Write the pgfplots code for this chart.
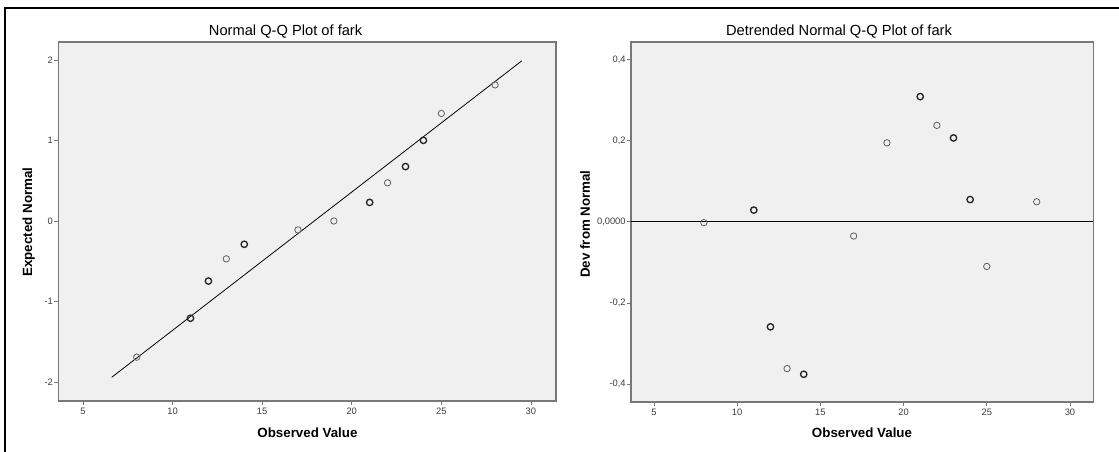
\documentclass[border=0pt]{standalone}
\usepackage{fontspec}
\setmainfont{Liberation Sans}
\usepackage{pgfplots}
\pgfplotsset{compat=1.18}

\definecolor{panel}{RGB}{240,240,240}
\definecolor{frameline}{RGB}{120,120,120}
\definecolor{ticktext}{RGB}{60,60,60}
\definecolor{ptlight}{RGB}{95,95,95}

\pgfplotsset{
  spssqq/.style={
    scale only axis,
    anchor=south west,
    xmin=3.62, xmax=31.4,
    xtick={5,10,15,20,25,30},
    xticklabels={5,10,15,20,25,30},
    tick pos=left,
    tick align=outside,
    major tick length=3pt,
    tick style={draw=frameline, line width=0.6pt},
    axis line style={draw=frameline, line width=0.8pt},
    axis background/.style={fill=panel},
    ticklabel style={font=\fontsize{7}{8}\selectfont, text=ticktext},
    xticklabel style={yshift=1.5pt},
    yticklabel style={xshift=2.5pt},
  },
}

\begin{document}
\begin{tikzpicture}
\useasboundingbox (0pt,0pt) rectangle (839.25pt,339pt);

% outer frame (top and left only)
\draw[line width=2.2pt] (3.75pt,0pt) -- (3.75pt,333pt) -- (839.25pt,333pt);

% ---- Normal Q-Q plot
\begin{axis}[spssqq,
    at={(43.7pt,38.25pt)},
    width=373.3pt, height=269.25pt,
    ymin=-2.236, ymax=2.224,
    ytick={-2,-1,0,1,2},
    yticklabels={-2,-1,0,1,2},
]
\addplot[black, line width=0.6pt] coordinates {(6.6,-1.942) (29.48,1.988)};
\addplot[only marks, mark=o, mark size=2.4pt, draw=ptlight, mark options={line width=0.6pt}]
  coordinates {(8,-1.691) (13,-0.470) (17,-0.111) (19,0.0) (22,0.474) (25,1.336) (28,1.691)};
\addplot[only marks, mark=o, mark size=2.4pt, draw=black!85, mark options={line width=1pt}]
  coordinates {(11,-1.208) (12,-0.746) (14,-0.289) (21,0.231) (23,0.676) (24,1.002)};
\end{axis}

% ---- Detrended Normal Q-Q plot
\begin{axis}[spssqq,
    at={(473.25pt,37.5pt)},
    width=346.7pt, height=270pt,
    ymin=-0.4444, ymax=0.4437,
    ytick={-0.4,-0.2,0,0.2,0.4},
    yticklabels={{-0,4},{-0,2},{0,0000},{0,2},{0,4}},
]
\addplot[black, line width=0.75pt] coordinates {(3.62,0) (31.4,0)};
\addplot[only marks, mark=o, mark size=2.4pt, draw=ptlight, mark options={line width=0.6pt}]
  coordinates {(8,-0.002) (13,-0.362) (17,-0.035) (19,0.195) (22,0.238) (25,-0.110) (28,0.0495)};
\addplot[only marks, mark=o, mark size=2.4pt, draw=black!85, mark options={line width=1pt}]
  coordinates {(11,0.029) (12,-0.259) (14,-0.376) (21,0.309) (23,0.207) (24,0.055)};
\end{axis}

% titles and axis labels
\node[font=\fontsize{11}{13}\selectfont] at (214.2pt,315.2pt) {Normal Q-Q Plot of fark};
\node[font=\fontsize{11}{13}\selectfont] at (629.25pt,315.5pt) {Detrended Normal Q-Q Plot of fark};
\node[font=\fontsize{10}{12}\selectfont\bfseries] at (230.6pt,14.25pt) {Observed Value};
\node[font=\fontsize{10}{12}\selectfont\bfseries] at (646.5pt,14.25pt) {Observed Value};
\node[font=\fontsize{10}{12}\selectfont\bfseries, rotate=90] at (21.5pt,172.5pt) {Expected Normal};
\node[font=\fontsize{10}{12}\selectfont\bfseries, rotate=90] at (438.75pt,171pt) {Dev from Normal};
\end{tikzpicture}
\end{document}
